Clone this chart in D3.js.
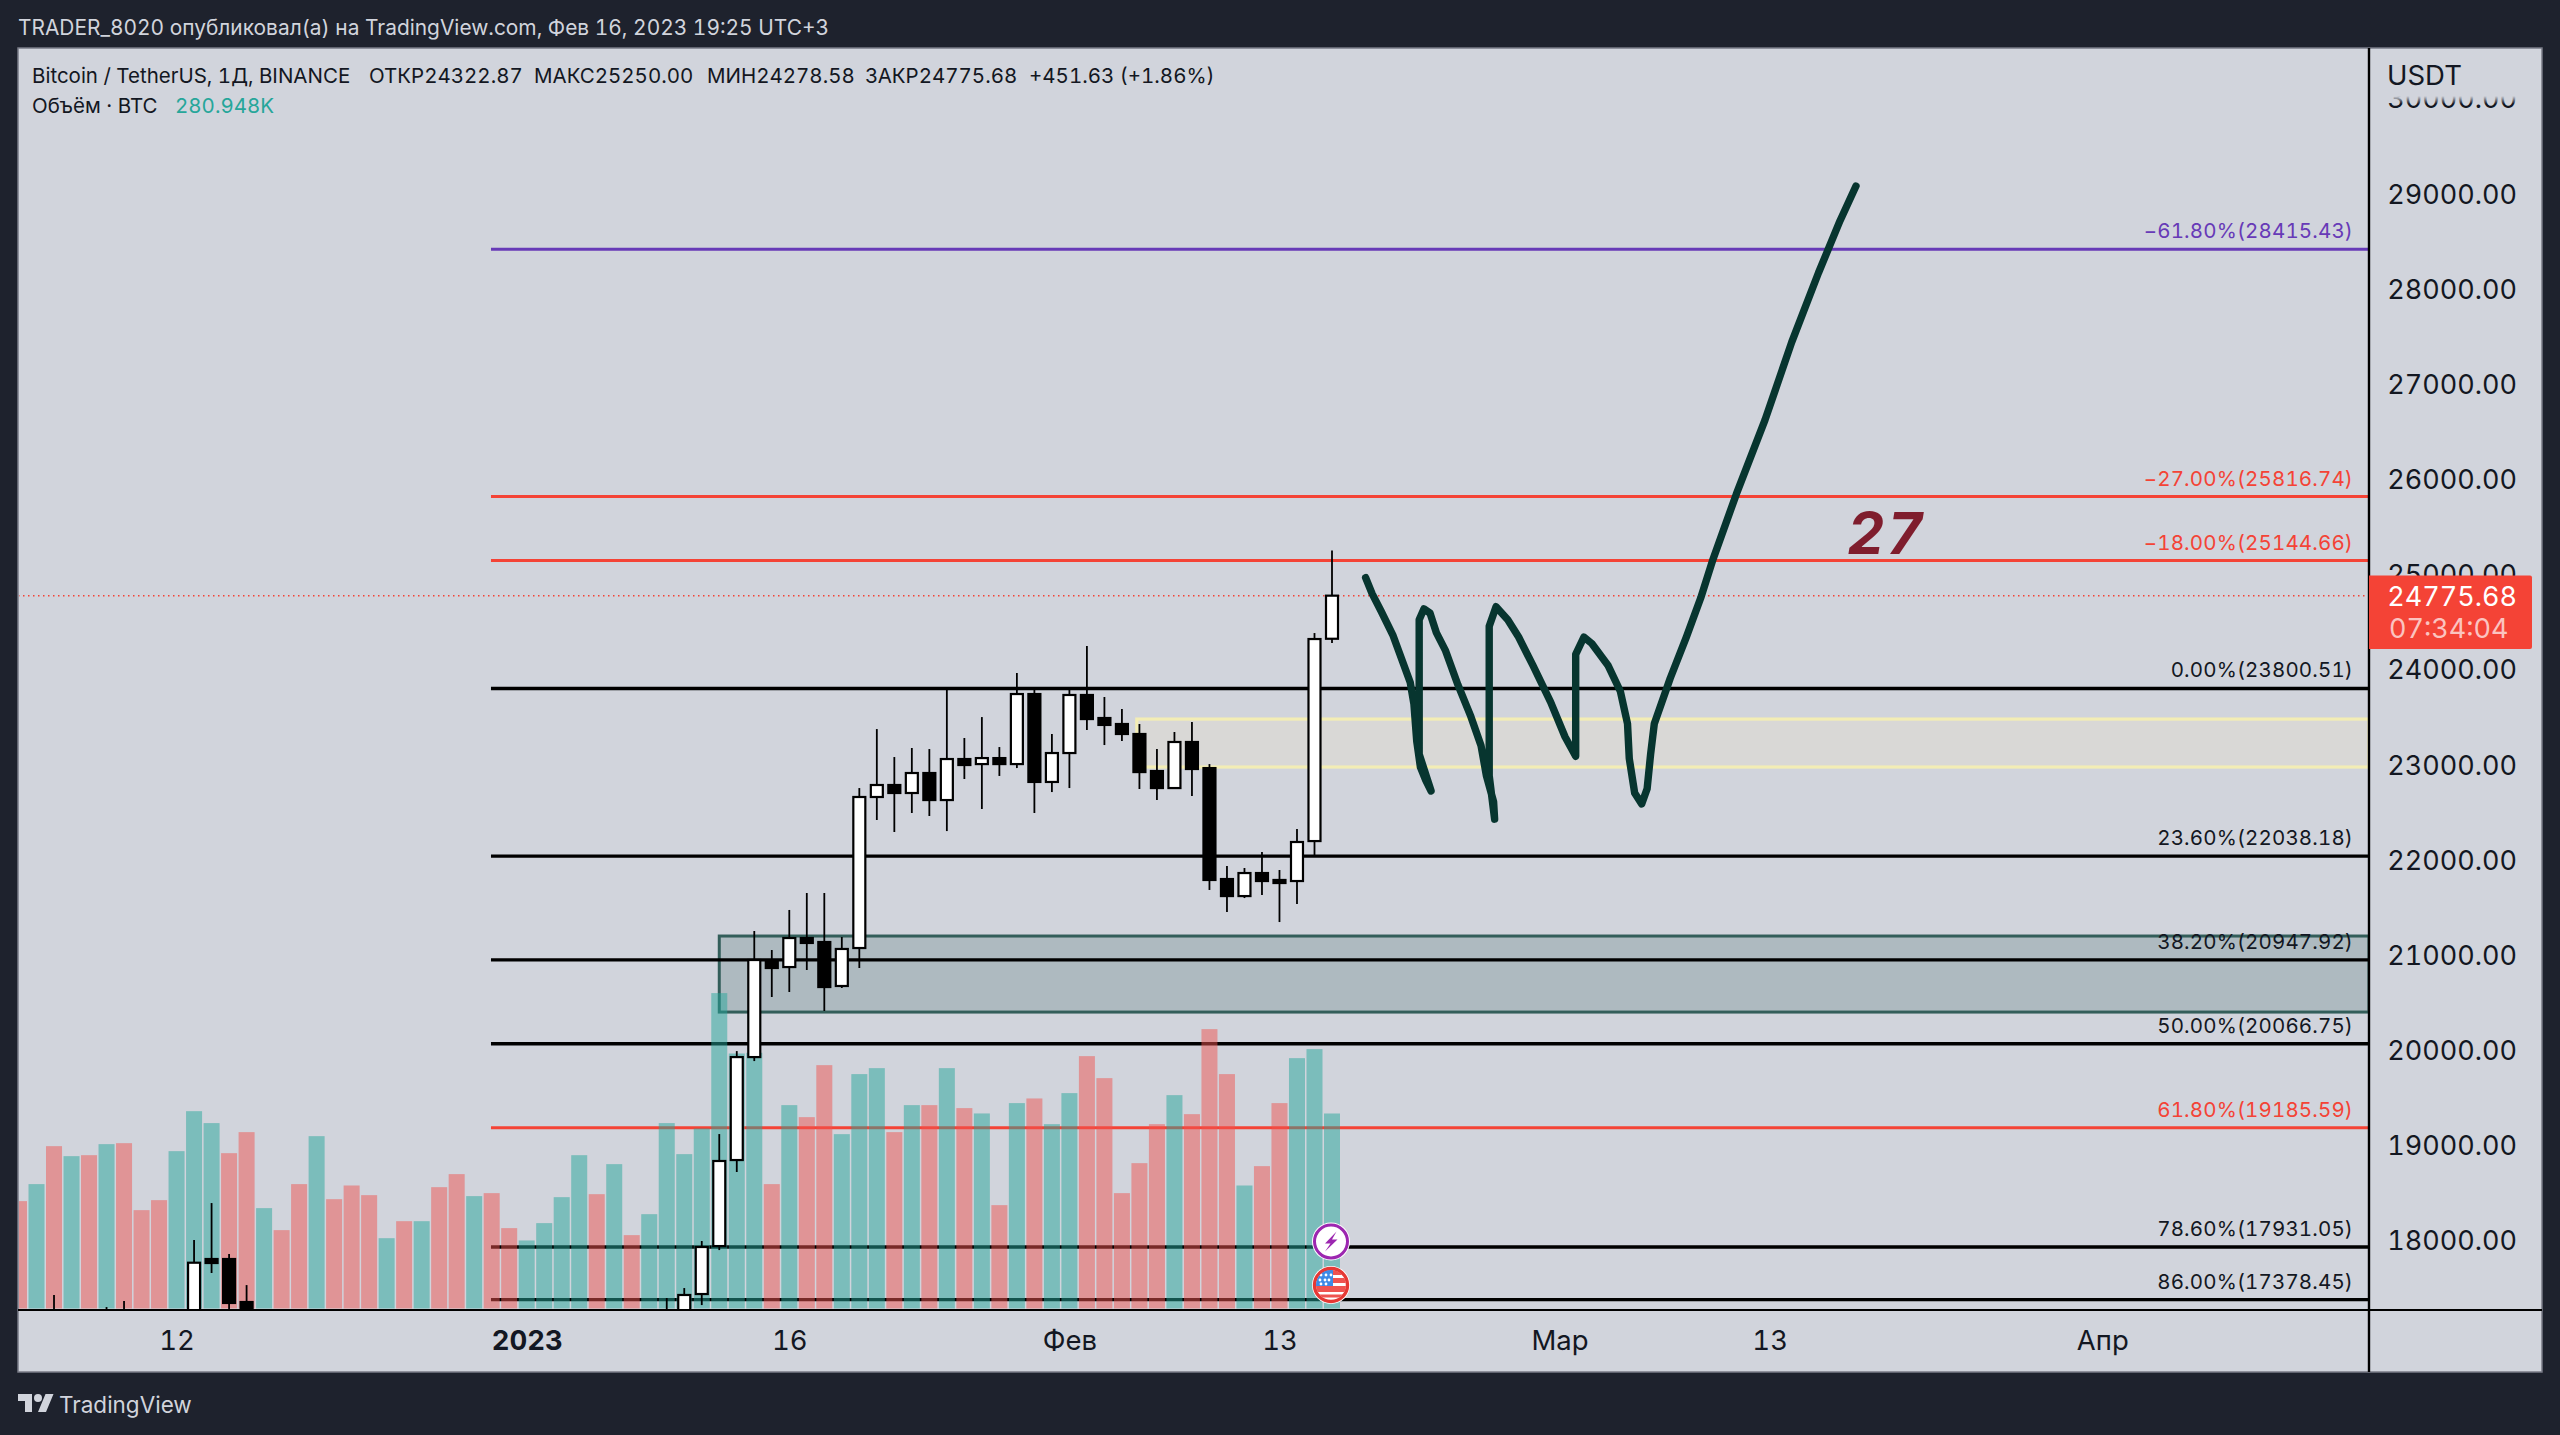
<!DOCTYPE html>
<html><head><meta charset="utf-8">
<script src="https://cdnjs.cloudflare.com/ajax/libs/d3/7.8.5/d3.min.js"></script>
<style>
html,body{margin:0;padding:0;background:#1e222d;overflow:hidden}
svg{display:block}
text{font-family:Inter,Roboto,sans-serif;font-variant-numeric:tabular-nums}
</style></head><body><div id="c"></div>
<script>
// ---------- data ----------
const titleText = "TRADER_8020 опубликовал(а) на TradingView.com, Фев 16, 2023 19:25 UTC+3";
const legendLine = ["Bitcoin / TetherUS, 1Д, BINANCE","ОТКР24322.87","МАКС25250.00","МИН24278.58","ЗАКР24775.68","+451.63 (+1.86%)"];
const volumeLabel = "Объём · BTC";
const volumeValueLabel = "280.948K";
const volumes = [154.7,179.2,233.9,219.5,220.9,236.8,238.2,141.7,156.1,226.7,284.3,267.1,223.8,254.1,144.6,112.9,179.2,248.3,157.5,177.2,163.3,101.3,125.8,125.8,174.8,193.6,161.9,166.2,115.8,98.0,123.0,160.4,220.9,164.7,208.0,105.7,135.9,267.1,222.4,259.4,454.4,367.4,368.4,179.2,293.0,275.7,350.6,251.2,337.7,346.3,254.1,293.0,293.0,346.3,288.7,281.0,148.9,295.9,302.6,265.6,310.3,363.6,331.9,166.2,209.4,265.6,307.4,280.0,402.5,337.7,177.2,205.1,295.9,360.7,373.7,280.948];
const volumeDir = [0,1,0,1,0,1,0,0,0,1,1,1,0,0,1,0,0,1,0,0,0,1,0,1,0,0,1,0,0,1,1,1,1,0,1,0,1,1,1,1,1,1,1,0,1,0,0,1,1,1,0,1,0,1,0,1,0,1,0,1,1,0,0,0,0,0,1,0,0,0,1,0,0,1,1,1];
const candleIdx = [2,5,6,10,11,12,13,37,38,39,40,41,42,43,44,45,46,47,48,49,50,51,52,53,54,55,56,57,58,59,60,61,62,63,64,65,66,67,68,69,70,71,72,73,74,75];
const opens  = [17100,17100,17100,17150,17805,17805,17353,17100,17200,17437,17941,18845,19927,20937,20873,21178,21136,20674,21073,22660,22786,22702,22912,22628,23059,23006,23069,23006,23742,22818,23122,23732,23490,23427,23322,22933,22754,23238,22964,21798,21619,21861,21788,21777,22197,24322.87];
const highs  = [17427,17300,17364,18004,18393,17857,17531,17395,17500,17994,19118,19990,21252,21052,21473,21651,21651,21189,22754,23374,23080,23175,23164,23805,23280,23500,23185,23963,23805,23322,23795,24247,23711,23584,23427,23164,23343,23448,23006,21935,21914,22082,21893,22324,24383,25250];
const lows   = [16950,16950,16950,17000,17658,17269,17100,16950,17150,17321,17899,18719,19885,20558,20611,20842,20411,20653,20863,22418,22292,22492,22460,22302,22849,22534,22881,22964,22492,22712,22754,23364,23206,23248,22744,22628,22744,22670,21683,21451,21598,21630,21346,21535,22050,24278.58];
const closes = [17000,17000,17000,17766,17763,17343,17150,17000,17427,17931,18835,19927,20947,20863,21178,21126,20663,21063,22660,22786,22702,22912,22628,23059,22996,23069,23006,23742,22818,23122,23732,23479,23417,23322,22922,22754,23238,22954,21788,21619,21861,21777,21756,22187,24320,24775.68];
const fibPct    = ["-61.80%","-27.00%","-18.00%","0.00%","23.60%","38.20%","50.00%","61.80%","78.60%","86.00%"];
const fibPrice  = [28415.43,25816.74,25144.66,23800.51,22038.18,20947.92,20066.75,19185.59,17931.05,17378.45];
const fibColor  = ["#673ab7","#f44336","#f44336","#000","#000","#000","#000","#f44336","#000","#000"];
const priceTicks = [18000,19000,20000,21000,22000,23000,24000,25000,26000,27000,28000,29000,30000];
const timeTickIdx = [9,29,44,60,72,88,100,119];
const timeTickLabels = ["12","2023","16","Фев","13","Мар","13","Апр"];
const lastPrice = 24775.68, countdown = "07:34:04";
const greenBox = {i0:40, i1:120, p0:21199, p1:20400};
const yellowBox = {i0:63.85, i1:120, p0:23479, p1:22975};
const drawIdx = [76.92,77.29,77.80,78.47,79.02,79.47,79.68,79.84,80.05,80.35,80.66,79.98,79.98,80.25,80.60,80.96,81.47,82.19,82.90,83.51,83.82,84.23,84.29,83.98,83.98,84.37,85.04,85.66,86.47,87.49,88.31,88.92,88.92,89.39,89.84,90.76,91.47,91.88,91.98,92.29,92.69,93.00,93.20,93.41,94.32,95.24,96.06,96.77,98.10,99.73,101.26,102.79,104.02,104.93];
const drawPrice = [24965,24797,24615,24364,24090,23863,23635,23247,22974,22837,22723,23111,24523,24637,24592,24387,24204,23840,23521,23202,22883,22610,22427,22883,24455,24660,24523,24341,24045,23657,23293,23088,24159,24341,24273,24045,23771,23430,23065,22701,22587,22746,23111,23430,23908,24341,24751,25161,25845,26620,27440,28169,28716,29080];

// ---------- layout ----------
const W=2560,H=1435, L=18,T=48,R=2369,RR=2542,B=1310,BB=1372;
const x=d3.scaleLinear().domain([0,75]).range([19,1332]);
const y=d3.scaleLinear().domain([28415.43,17378.45]).range([249.3,1299.6]);
const vy=d3.scaleLinear().domain([0,280.948]).range([1308.5,1113.5]);
const fib0=x(26.96);

const svg=d3.select("#c").append("svg").attr("width",W).attr("height",H);
const defs=svg.append("defs");
defs.append("clipPath").attr("id","plot").append("rect").attr("x",L+1).attr("y",T).attr("width",R-L-1).attr("height",B-T);
defs.append("clipPath").attr("id","axisClip").append("rect").attr("x",R).attr("y",96).attr("width",RR-R).attr("height",BB-96);
const fade=defs.append("linearGradient").attr("id","fade").attr("x1",0).attr("x2",0).attr("y1",0).attr("y2",1);
fade.append("stop").attr("offset",0).attr("stop-color","#d1d4dc").attr("stop-opacity",1);
fade.append("stop").attr("offset",1).attr("stop-color","#d1d4dc").attr("stop-opacity",0);

svg.append("rect").attr("width",W).attr("height",H).attr("fill","#1e222d");
svg.append("rect").attr("x",L).attr("y",T).attr("width",RR-L).attr("height",BB-T).attr("fill","#d1d4dc").attr("stroke","#787b86").attr("stroke-width",1.5);

const plot=svg.append("g").attr("clip-path","url(#plot)");

// boxes
plot.append("rect").attr("x",x(yellowBox.i0)).attr("y",y(yellowBox.p0)).attr("width",R-x(yellowBox.i0)).attr("height",y(yellowBox.p1)-y(yellowBox.p0))
 .attr("fill","#d9d8d6").attr("stroke","#f3edb5").attr("stroke-width",3.2);
plot.append("rect").attr("x",x(greenBox.i0)).attr("y",y(greenBox.p0)).attr("width",R-x(greenBox.i0)).attr("height",y(greenBox.p1)-y(greenBox.p0))
 .attr("fill","#2f5f5b").attr("fill-opacity",.216).attr("stroke","#335e5a").attr("stroke-width",3);

// fib lines + labels
plot.selectAll("line.fib").data(fibPrice).join("line").attr("class","fib")
 .attr("x1",fib0).attr("x2",R).attr("y1",d=>y(d)).attr("y2",d=>y(d))
 .attr("stroke",(d,i)=>fibColor[i]).attr("stroke-width",(d,i)=>fibColor[i]==="#000"?3.4:3);
plot.append("line").attr("x1",L).attr("x2",R).attr("y1",y(lastPrice)).attr("y2",y(lastPrice))
 .attr("stroke","#f44336").attr("stroke-width",1.5).attr("stroke-dasharray","1.5 3.5");
plot.selectAll("text.fib").data(fibPrice).join("text").attr("class","fib")
 .attr("x",2353).attr("y",d=>y(d)-11).attr("text-anchor","end").attr("font-size",20.5).attr("letter-spacing",0.15)
 .attr("fill",(d,i)=>fibColor[i]==="#000"?"#131722":fibColor[i])
 .text((d,i)=>`${fibPct[i].replace("-","−")}(${d.toFixed(2)})`);

// volume
plot.selectAll("rect.vol").data(volumes).join("rect").attr("class","vol")
 .attr("x",(d,i)=>x(i)-8).attr("width",16).attr("y",d=>vy(d)).attr("height",d=>vy(0)-vy(d))
 .attr("fill",(d,i)=>volumeDir[i]?"#26a69a":"#ef5350").attr("fill-opacity",.5);

// candles
const cd=candleIdx.map((i,k)=>({i,o:opens[k],h:highs[k],l:lows[k],c:closes[k]}));
plot.selectAll("line.wick").data(cd).join("line").attr("class","wick")
 .attr("x1",d=>x(d.i)).attr("x2",d=>x(d.i)).attr("y1",d=>y(d.h)).attr("y2",d=>y(d.l))
 .attr("stroke","#000").attr("stroke-width",1.8);
plot.selectAll("rect.body").data(cd).join("rect").attr("class","body")
 .attr("x",d=>x(d.i)-6).attr("width",12)
 .attr("y",d=>y(Math.max(d.o,d.c))).attr("height",d=>Math.abs(y(d.o)-y(d.c)))
 .attr("fill",d=>d.c>=d.o?"#fff":"#000").attr("stroke","#000").attr("stroke-width",2.2);

// hand drawing
plot.append("path").datum(d3.zip(drawIdx,drawPrice))
 .attr("d",d3.line().x(d=>x(d[0])).y(d=>y(d[1])))
 .attr("fill","none").attr("stroke","#07352f").attr("stroke-width",7.4).attr("stroke-linejoin","round").attr("stroke-linecap","round");
plot.append("text").attr("x",1886).attr("y",554).attr("text-anchor","middle")
 .attr("font-family","DejaVu Sans").attr("font-weight",700).attr("font-style","italic").attr("font-size",58).attr("letter-spacing",1.5).attr("fill","#7f1d2d").text("27");

// axes
const ya=d3.axisRight(y).tickValues(priceTicks).tickSize(0).tickPadding(0).tickFormat(d=>d.toFixed(2));
const yg=svg.append("g").attr("clip-path","url(#axisClip)").append("g").attr("transform",`translate(2517,0)`).call(ya);
yg.select(".domain").remove();
yg.selectAll("text").attr("font-family","Inter").attr("font-size",27).attr("text-anchor","end").attr("fill","#131722").attr("dy","0.35em");
svg.append("rect").attr("x",R+2).attr("y",96).attr("width",RR-R-3).attr("height",8).attr("fill","url(#fade)");
svg.append("text").attr("x",2387).attr("y",85).attr("font-size",27.5).attr("fill","#131722").text("USDT");

const xa=d3.axisBottom(x).tickValues(timeTickIdx).tickSize(0).tickPadding(0).tickFormat((d,i)=>timeTickLabels[i]);
const xg=svg.append("g").attr("transform",`translate(0,1340)`).call(xa);
xg.select(".domain").remove();
xg.selectAll("text").attr("font-family","Inter").attr("font-size",27.5).attr("fill","#131722").attr("y",0).attr("dy","0.35em")
 .attr("font-weight",(d,i)=>timeTickLabels[i]==="2023"?700:400);

svg.append("line").attr("x1",L).attr("x2",RR).attr("y1",B).attr("y2",B).attr("stroke","#000").attr("stroke-width",2);
svg.append("line").attr("x1",R).attr("x2",R).attr("y1",T).attr("y2",BB).attr("stroke","#000").attr("stroke-width",2.4);

// price label
svg.append("path").attr("d","M2369 575.5H2530a2 2 0 0 1 2 2V647a2 2 0 0 1-2 2H2369Z").attr("fill","#f44336");
svg.append("text").attr("x",2517).attr("y",597).attr("dy","0.35em").attr("text-anchor","end").attr("font-size",27).attr("fill","#fff").text(lastPrice.toFixed(2));
svg.append("text").attr("x",2389).attr("y",629).attr("dy","0.35em").attr("font-size",27).attr("fill","#fff").attr("fill-opacity",.7).text(countdown);

// events
const ev=svg.append("g").attr("transform",`translate(${x(75)-1},1241.5)`);
ev.append("circle").attr("r",19).attr("fill","#fff");
ev.append("circle").attr("r",16.5).attr("fill","#fff").attr("stroke","#9c27b0").attr("stroke-width",3);
ev.append("path").attr("d","M5.5-10L-6 2H-.5L-6 10L6.5-2H1Z").attr("fill","#9c27b0");
defs.append("clipPath").attr("id","flag").append("circle").attr("r",15);
const fl=svg.append("g").attr("transform",`translate(${x(75)-1},1285)`);
fl.append("circle").attr("r",19).attr("fill","#fff");
fl.append("circle").attr("r",16.5).attr("fill","#fff").attr("stroke","#e53935").attr("stroke-width",3.4);
const fg=fl.append("g").attr("clip-path","url(#flag)");
fg.append("rect").attr("x",-15).attr("y",-15).attr("width",30).attr("height",5).attr("fill","#ef5350");
fg.append("rect").attr("x",2).attr("y",-7).attr("width",14).attr("height",5).attr("fill","#ef5350");
fg.append("rect").attr("x",-15).attr("y",1).attr("width",30).attr("height",6).attr("fill","#ef5350");
fg.append("rect").attr("x",-15).attr("y",9.5).attr("width",30).attr("height",3).attr("fill","#ef5350");
fg.append("rect").attr("x",-15).attr("y",-15).attr("width",17).attr("height",16).attr("fill","#3d8ae6");
[[-10,-10],[-5,-10],[0,-10],[-11,-5],[-6,-5],[-2,-5],[-10,-1],[-5,-1]].forEach(p=>fg.append("circle").attr("cx",p[0]).attr("cy",p[1]).attr("r",1.4).attr("fill","#fff"));

// texts
svg.append("text").attr("x",18).attr("y",35).attr("font-size",20.9).attr("fill","#d1d4dc").text(titleText);
const lx=[32,369,534,707,865,1029];
legendLine.forEach((t,i)=>svg.append("text").attr("x",lx[i]).attr("y",83).attr("font-size",20.5).attr("fill","#131722").text(t));
svg.append("text").attr("x",32).attr("y",113).attr("font-size",20.5).attr("fill","#131722").text(volumeLabel);
svg.append("text").attr("x",175).attr("y",113).attr("font-size",20.5).attr("fill","#26a69a").text(volumeValueLabel);

// logo
const lg=svg.append("g").attr("transform","translate(18,1390)").attr("fill","#d1d4dc");
lg.append("path").attr("d","M14 22H7V11H0V4h14v18zM28 22h-8l7.5-18h8L28 22z");
lg.append("circle").attr("cx",20).attr("cy",8).attr("r",4);
svg.append("text").attr("x",59).attr("y",1413).attr("font-size",22.5).attr("fill","#d1d4dc").text("TradingView");
</script></body></html>
